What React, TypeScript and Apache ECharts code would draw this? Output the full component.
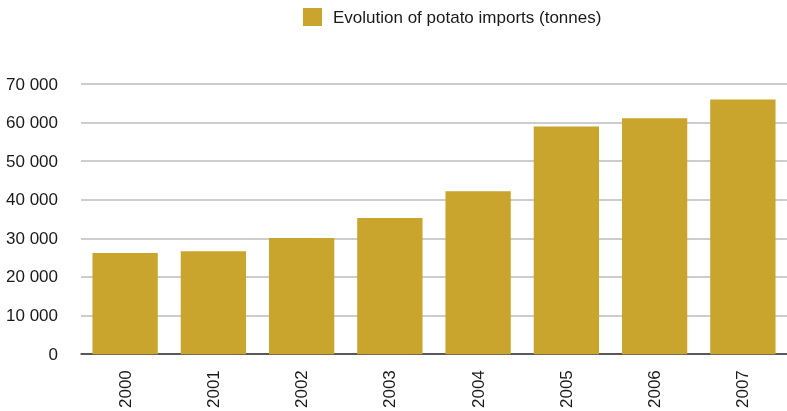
import React, { useEffect, useRef } from "react";
import * as echarts from "echarts";

const categories = ["2000", "2001", "2002", "2003", "2004", "2005", "2006", "2007"];
const imports = [26200, 26700, 30100, 35300, 42200, 59000, 61100, 66000];
const seriesName = "Evolution of potato imports (tonnes)";
const FONT = "'Liberation Sans', Arial, sans-serif";

export default function App() {
  const ref = useRef<HTMLDivElement>(null);
  useEffect(() => {
    const chart = echarts.init(ref.current!, null, { renderer: "svg" });
    chart.setOption({
      animation: false,
      legend: {
        data: [seriesName],
        left: 303,
        top: 8,
        padding: 0,
        itemWidth: 19,
        itemHeight: 18,
        icon: "rect",
        textStyle: { fontFamily: FONT, fontSize: 17, color: "#1a1a1a", padding: [0, 0, 0, 6] },
      },
      grid: { left: 81, right: 0, top: 84, bottom: 55, containLabel: false },
      xAxis: {
        type: "category",
        data: categories,
        axisLine: { lineStyle: { color: "#333", width: 1.5 } },
        axisTick: { show: false },
        axisLabel: { rotate: 90, margin: 16, fontFamily: FONT, fontSize: 17, color: "#1a1a1a" },
      },
      yAxis: {
        type: "value",
        min: 0,
        max: 70000,
        interval: 10000,
        axisLine: { show: false },
        axisTick: { show: false },
        splitLine: { lineStyle: { color: "#bcbcbc", width: 1.5 } },
        axisLabel: {
          margin: 23,
          fontFamily: FONT,
          fontSize: 17,
          color: "#1a1a1a",
          formatter: (v: number) => (v === 0 ? "0" : `${Math.floor(v / 1000)} 000`),
        },
      },
      series: [
        {
          name: seriesName,
          type: "bar",
          data: imports,
          barCategoryGap: "26%",
          itemStyle: { color: "#C9A52D" },
        },
      ],
    });
    return () => chart.dispose();
  }, []);
  return (
    <div
      ref={ref}
      style={{ position: "fixed", left: 0, top: 0, width: 787, height: 411 }}
    />
  );
}
